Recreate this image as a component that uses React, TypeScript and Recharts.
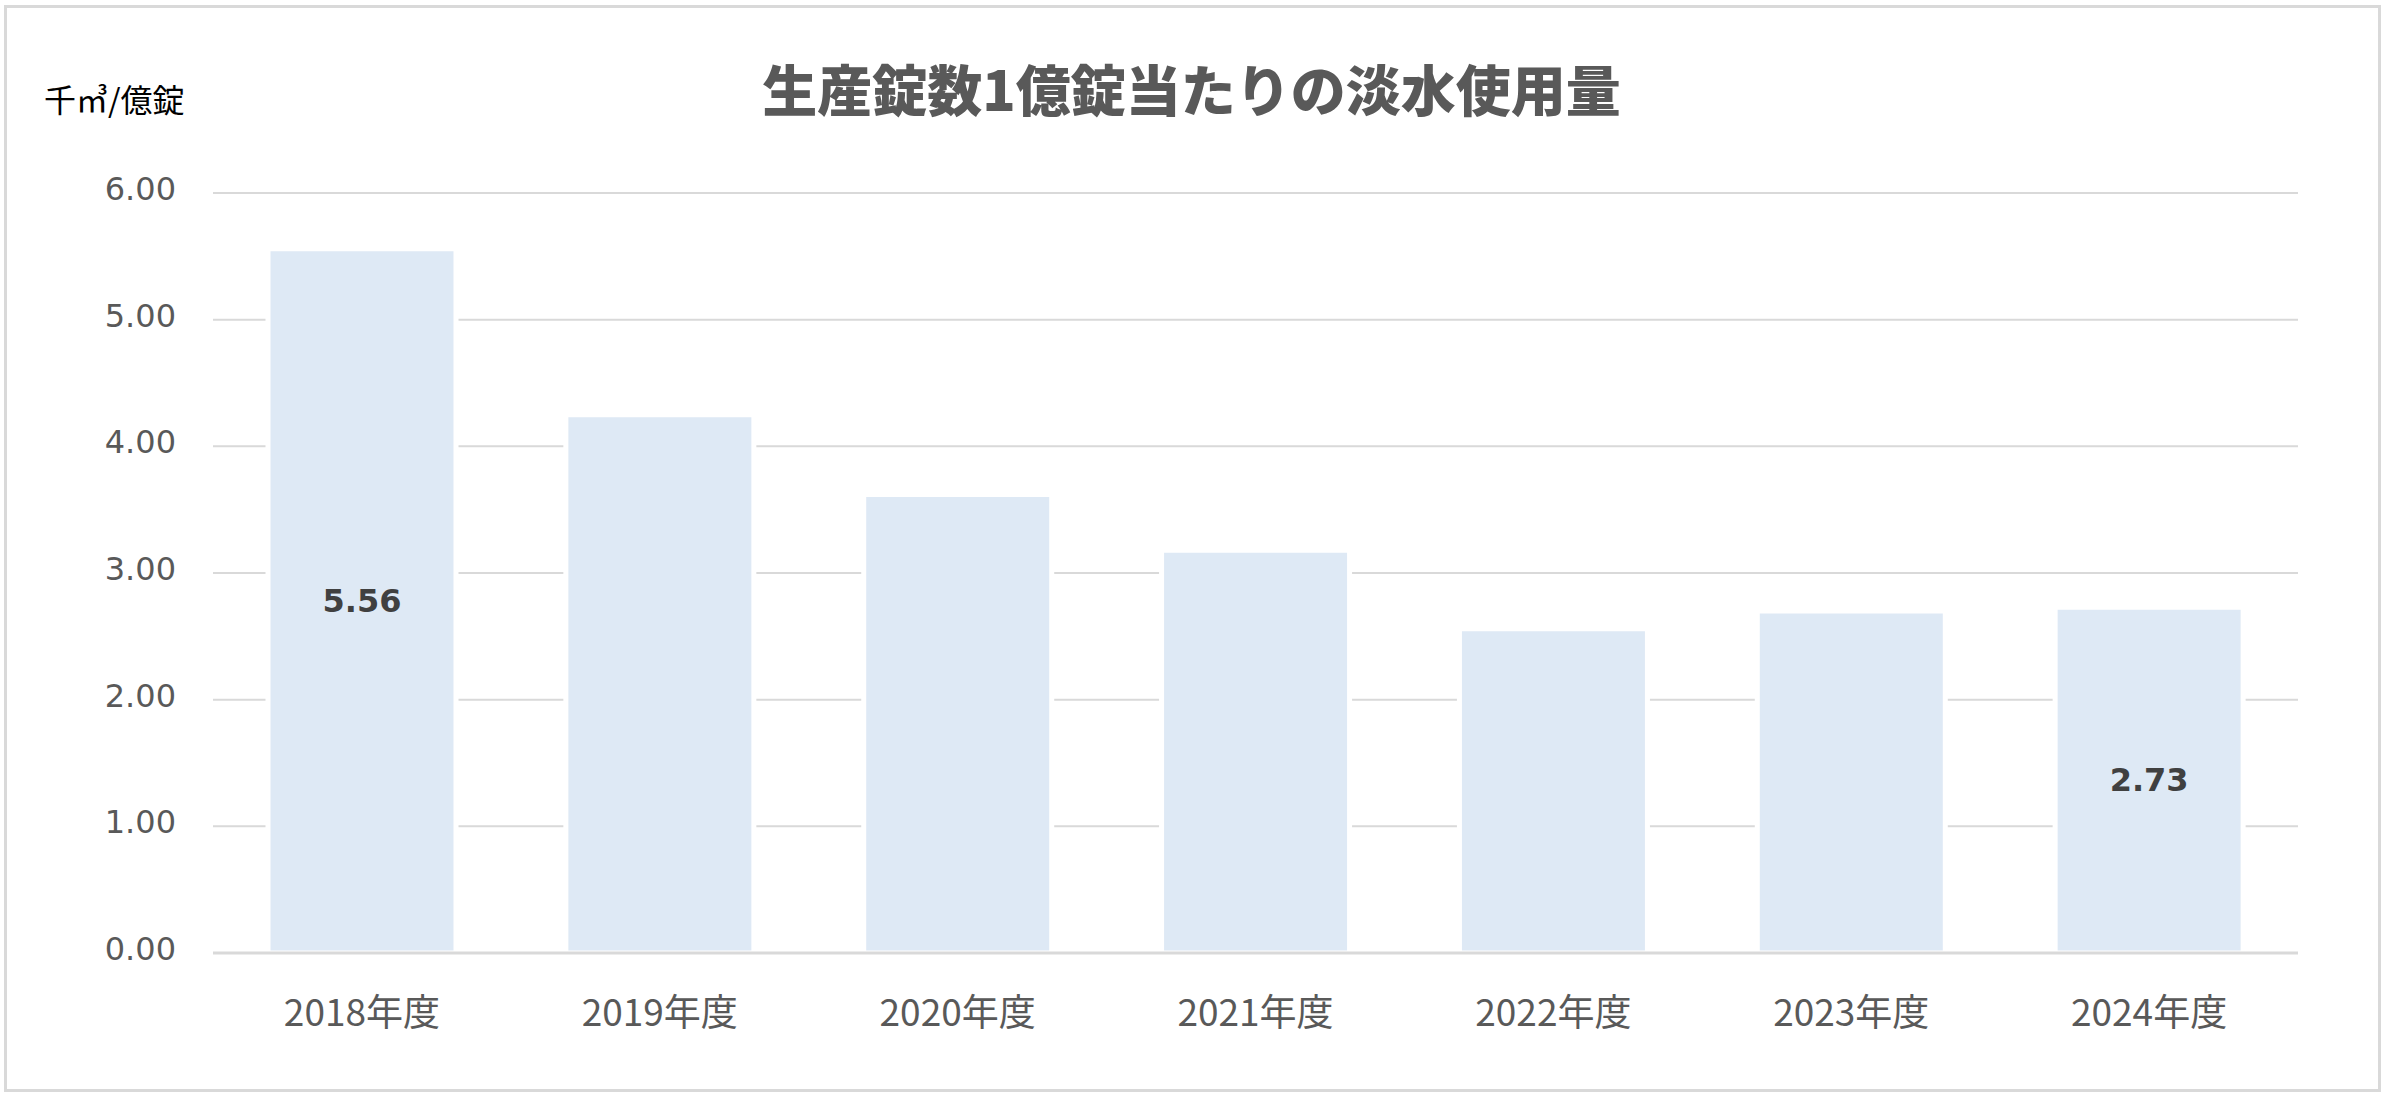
import { Bar, BarChart, CartesianGrid, LabelList, XAxis, YAxis } from 'recharts'

const years = [
  '2018年度',
  '2019年度',
  '2020年度',
  '2021年度',
  '2022年度',
  '2023年度',
  '2024年度',
]
const usage = [5.56, 4.25, 3.62, 3.18, 2.56, 2.7, 2.73]
// only the first and last bars carry a value label
const shownLabels = ['5.56', '', '', '', '', '', '2.73']
const yTicks = [0, 1, 2, 3, 4, 5, 6]

const chartData = years.map((year, index) => ({
  year,
  usage: usage[index],
  label: shownLabels[index],
}))

const XTick = ({ x, y, payload }: any) => (
  <text
    x={x}
    y={y + 73}
    textAnchor="middle"
    fill="#595959"
    fontSize={37}
    fontFamily="'Noto Sans CJK JP', sans-serif"
  >
    {payload.value}
  </text>
)

const YTick = ({ x, y, payload }: any) => (
  <text
    x={x}
    y={y + 7}
    textAnchor="end"
    fill="#595959"
    fontSize={32}
    fontFamily="'DejaVu Sans', sans-serif"
  >
    {Number(payload.value).toFixed(2)}
  </text>
)

export default function App() {
  return (
    <div
      style={{
        position: 'absolute',
        left: 0,
        top: 0,
        width: 2383,
        height: 1095,
        background: '#fff',
      }}
    >
      <div
        style={{
          position: 'absolute',
          left: 4,
          top: 5,
          width: 2377,
          height: 1087,
          boxSizing: 'border-box',
          border: '3px solid #d9d9d9',
        }}
      />
      <div
        style={{
          position: 'absolute',
          left: 0,
          top: 60,
          width: 2383,
          textAlign: 'center',
          fontFamily: "'Noto Sans CJK JP', sans-serif",
          fontWeight: 800,
          fontSize: 55,
          lineHeight: '55px',
          color: '#595959',
        }}
      >
        生産錠数1億錠当たりの淡水使用量
      </div>
      <div
        style={{
          position: 'absolute',
          left: 44,
          top: 82,
          fontFamily: "'Noto Sans CJK JP', sans-serif",
          fontSize: 32,
          lineHeight: '32px',
          color: '#000',
        }}
      >
        千㎥/億錠
      </div>
      <BarChart
        width={2383}
        height={1095}
        data={chartData}
        margin={{ top: 193, right: 85, bottom: 0, left: 0 }}
        style={{ position: 'absolute', left: 0, top: 0 }}
      >
        <CartesianGrid vertical={false} stroke="#d9d9d9" strokeWidth={2} />
        <XAxis
          dataKey="year"
          height={142}
          tickLine={false}
          tickSize={0}
          tickMargin={0}
          axisLine={{ stroke: '#d9d9d9', strokeWidth: 3 }}
          tick={<XTick />}
        />
        <YAxis
          width={213}
          domain={[0, 6]}
          ticks={yTicks}
          axisLine={false}
          tickLine={false}
          tickSize={0}
          tickMargin={37}
          tick={<YTick />}
        />
        <Bar
          dataKey="usage"
          fill="#dee9f5"
          stroke="#ffffff"
          strokeWidth={5}
          barSize={188}
          isAnimationActive={false}
        >
          <LabelList
            dataKey="label"
            position="center"
            fill="#404040"
            fontSize={32}
            fontWeight={700}
            fontFamily="'DejaVu Sans', sans-serif"
          />
        </Bar>
      </BarChart>
    </div>
  )
}
